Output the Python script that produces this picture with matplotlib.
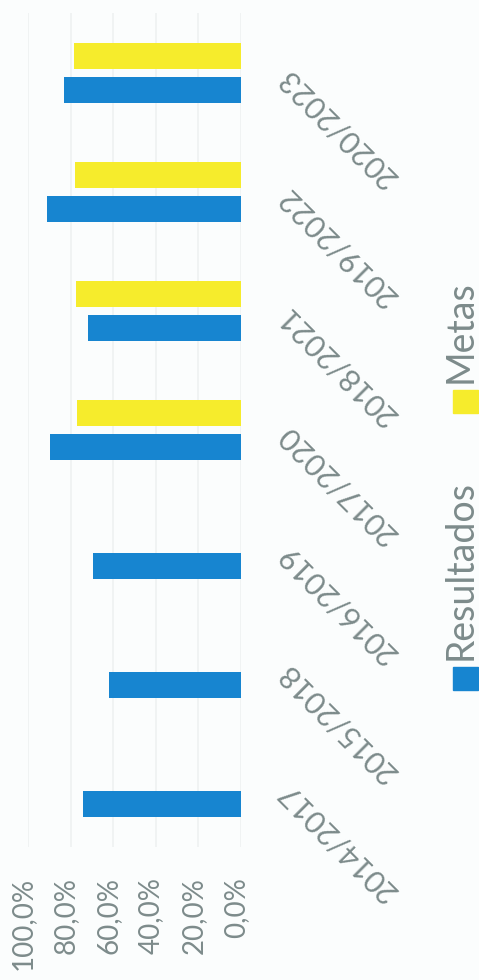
import numpy as np
import matplotlib.pyplot as plt
from matplotlib.patches import Rectangle
from matplotlib.ticker import FuncFormatter
from matplotlib.transforms import ScaledTranslation

categorias = ['2014/2017', '2015/2018', '2016/2019', '2017/2020', '2018/2021', '2019/2022', '2020/2023']
resultados = [74.0, 62.0, 69.5, 89.5, 72.0, 91.0, 83.0]
metas = [np.nan, np.nan, np.nan, 77.0, 77.5, 78.0, 78.5]
ticks_pct = [0, 20, 40, 60, 80, 100]

azul = '#1785d0'
amarelo = '#f6ec2c'
cinza = '#7d8b8b'
fundo = '#fbfdfd'

plt.rcParams['font.family'] = ['Lato', 'DejaVu Sans']

fig = plt.figure(figsize=(4.79, 9.8), dpi=100, facecolor=fundo)
# grafico original de colunas, aqui rodado 90 graus
ax = fig.add_axes([28/479, 1 - 846.5/980, 213/479, 833/980], facecolor=fundo)

y = np.arange(len(categorias))
w = 0.22
ax.barh(y - 0.14, resultados, height=w, color=azul)
ax.barh(y + 0.14, metas, height=w, color=amarelo)

ax.set_xlim(100, 0)
ax.set_ylim(-0.5, len(categorias) - 0.5)
ax.set_xticks(ticks_pct)
ax.xaxis.set_major_formatter(FuncFormatter(lambda v, p: f"{v:.1f}%".replace('.', ',')))
ax.tick_params(axis='x', length=0, pad=22, labelsize=20, labelcolor=cinza, labelrotation=90)
desloc = ScaledTranslation(-5/100, 0, fig.dpi_scale_trans)
for lbl in ax.get_xticklabels():
    lbl.set_transform(lbl.get_transform() + desloc)
ax.grid(axis='x', color='#eef1f1', linewidth=1.2)
ax.set_axisbelow(True)

ax.yaxis.tick_right()
ax.set_yticks(y)
ax.set_yticklabels(categorias)
ax.tick_params(axis='y', length=0, pad=30, labelsize=22, labelcolor=cinza)
for lbl in ax.get_yticklabels():
    lbl.set_rotation(135)
    lbl.set_rotation_mode('anchor')
    lbl.set_ha('right')
    lbl.set_va('center')

for s in ax.spines.values():
    s.set_visible(False)

# legenda manual (texto rodado)
fig.patches.append(Rectangle((453/479, 1 - 690/980), 25/479, 23/980,
                             transform=fig.transFigure, color=azul))
fig.patches.append(Rectangle((453/479, 1 - 413/980), 25/479, 23/980,
                             transform=fig.transFigure, color=amarelo))
fig.text(478.5/479, 1 - 660/980, 'Resultados', rotation=90, ha='left', va='bottom',
         fontsize=27, color=cinza, rotation_mode='anchor')
fig.text(478.5/479, 1 - 383/980, 'Metas', rotation=90, ha='left', va='bottom',
         fontsize=27, color=cinza, rotation_mode='anchor')

fig.savefig('out.png', dpi=100, facecolor=fundo)
